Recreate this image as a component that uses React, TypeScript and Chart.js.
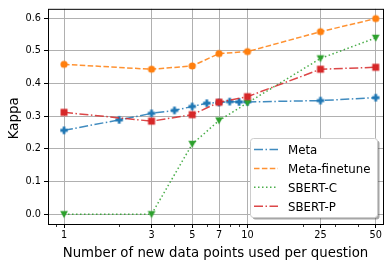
import React, { useEffect, useRef } from "react";
import { Chart, registerables } from "chart.js";

Chart.register(...registerables);

// ---- data ----
const metaX = [1, 2, 3, 4, 5, 6, 7, 8, 9, 10, 25, 50];
const metaY = [0.257, 0.289, 0.309, 0.318, 0.330, 0.340, 0.342, 0.345, 0.344, 0.344, 0.348, 0.357];
const otherX = [1, 3, 5, 7, 10, 25, 50];
const finetuneY = [0.459, 0.444, 0.454, 0.492, 0.498, 0.559, 0.599];
const sbertCY = [0.0, 0.0, 0.215, 0.287, 0.341, 0.477, 0.540];
const sbertPY = [0.312, 0.285, 0.305, 0.343, 0.360, 0.444, 0.450];
const xTicks = [1, 3, 5, 7, 10, 25, 50];
const xMinorTicks = [0.9, 2, 4, 6, 8, 9, 20, 30, 40];
const yTicks = [0.0, 0.1, 0.2, 0.3, 0.4, 0.5, 0.6];
const seriesNames = ["Meta", "Meta-finetune", "SBERT-C", "SBERT-P"];
const xTitle = "Number of new data points used per question";
const yTitle = "Kappa";

const COLORS = ["#1f77b4", "#ff7f0e", "#2ca02c", "#d62728"];
const LINE_COLORS = [
  "rgba(31,119,180,0.85)",
  "rgba(255,127,14,0.85)",
  "rgba(44,160,44,0.85)",
  "rgba(214,39,40,0.85)",
];
const DASHES = [
  [9, 2.5, 1.5, 2.5],
  [5.5, 2.4],
  [1.5, 2.5],
  [9, 2.5, 1.5, 2.5],
];
const FONT = "'DejaVu Sans', sans-serif";

function makeMarker(kind: string, color: string): HTMLCanvasElement {
  const c = document.createElement("canvas");
  c.width = 10;
  c.height = 10;
  const g = c.getContext("2d")!;
  g.fillStyle = color;
  const cx = 5, cy = 5;
  g.beginPath();
  if (kind === "plus") {
    const s = 3.7, w = 1.4;
    g.moveTo(cx - w, cy - s);
    g.lineTo(cx + w, cy - s);
    g.lineTo(cx + w, cy - w);
    g.lineTo(cx + s, cy - w);
    g.lineTo(cx + s, cy + w);
    g.lineTo(cx + w, cy + w);
    g.lineTo(cx + w, cy + s);
    g.lineTo(cx - w, cy + s);
    g.lineTo(cx - w, cy + w);
    g.lineTo(cx - s, cy + w);
    g.lineTo(cx - s, cy - w);
    g.lineTo(cx - w, cy - w);
    g.closePath();
  } else if (kind === "circle") {
    g.arc(cx, cy, 3.6, 0, Math.PI * 2);
  } else if (kind === "square") {
    g.rect(cx - 3.5, cy - 3.5, 7, 7);
  } else if (kind === "tri") {
    g.moveTo(cx - 3.9, cy - 3.2);
    g.lineTo(cx + 3.9, cy - 3.2);
    g.lineTo(cx, cy + 3.8);
    g.closePath();
  }
  g.fill();
  return c;
}

const framePlugin = {
  id: "frameAndLegend",
  afterDraw(chart: any) {
    const ctx = chart.ctx as CanvasRenderingContext2D;
    const a = chart.chartArea;
    const xs = chart.scales.x;
    ctx.save();
    // frame
    ctx.strokeStyle = "#000";
    ctx.lineWidth = 1;
    ctx.setLineDash([]);
    ctx.strokeRect(a.left + 0.5, a.top + 0.5, a.right - a.left, a.bottom - a.top);
    // minor ticks
    ctx.lineWidth = 0.8;
    for (const v of xMinorTicks) {
      const px = Math.round(xs.getPixelForValue(v)) + 0.5;
      ctx.beginPath();
      ctx.moveTo(px, a.bottom + 1);
      ctx.lineTo(px, a.bottom + 3);
      ctx.stroke();
    }
    // titles
    ctx.fillStyle = "#000";
    ctx.font = `13.3px ${FONT}`;
    ctx.textAlign = "center";
    ctx.textBaseline = "alphabetic";
    ctx.fillText(xTitle, (a.left + a.right) / 2, 257);
    ctx.save();
    ctx.translate(18, 118.3);
    ctx.rotate(-Math.PI / 2);
    ctx.fillText(yTitle, 0, 0);
    ctx.restore();

    // legend
    const lx = 250.5, ly = 138.5, lw = 127, lh = 79, r = 3;
    const rr = (x: number, y: number) => {
      ctx.beginPath();
      ctx.moveTo(x + r, y);
      ctx.lineTo(x + lw - r, y);
      ctx.quadraticCurveTo(x + lw, y, x + lw, y + r);
      ctx.lineTo(x + lw, y + lh - r);
      ctx.quadraticCurveTo(x + lw, y + lh, x + lw - r, y + lh);
      ctx.lineTo(x + r, y + lh);
      ctx.quadraticCurveTo(x, y + lh, x, y + lh - r);
      ctx.lineTo(x, y + r);
      ctx.quadraticCurveTo(x, y, x + r, y);
      ctx.closePath();
    };
    rr(lx + 2, ly + 2);
    ctx.fillStyle = "rgba(77,77,77,0.5)";
    ctx.fill();
    rr(lx, ly);
    ctx.fillStyle = "#ffffff";
    ctx.fill();
    ctx.strokeStyle = "#cccccc";
    ctx.lineWidth = 1;
    ctx.stroke();

    const rows = [149.5, 168.5, 187.3, 206.2];
    ctx.font = `11.8px ${FONT}`;
    ctx.textAlign = "left";
    for (let i = 0; i < seriesNames.length; i++) {
      ctx.strokeStyle = LINE_COLORS[i];
      ctx.lineWidth = 1.5;
      ctx.setLineDash(DASHES[i]);
      ctx.beginPath();
      ctx.moveTo(254, rows[i]);
      ctx.lineTo(278, rows[i]);
      ctx.stroke();
      ctx.setLineDash([]);
      ctx.fillStyle = "#000";
      ctx.fillText(seriesNames[i], 288, rows[i] + 4.3);
    }
    ctx.restore();
  },
};

export default function App() {
  const ref = useRef<HTMLCanvasElement | null>(null);
  useEffect(() => {
    document.body.style.margin = "0";
    const canvas = ref.current!;
    const markers = [
      makeMarker("plus", COLORS[0]),
      makeMarker("circle", COLORS[1]),
      makeMarker("tri", COLORS[2]),
      makeMarker("square", COLORS[3]),
    ];
    const ys = [metaY, finetuneY, sbertCY, sbertPY];
    const datasets = seriesNames.map((name, i) => {
      const xsArr = i === 0 ? metaX : otherX;
      return {
        label: name,
        data: xsArr.map((x, j) => ({ x, y: ys[i][j] })),
        borderColor: LINE_COLORS[i],
        backgroundColor: COLORS[i],
        borderWidth: 1.5,
        borderDash: DASHES[i],
        pointStyle: markers[i],
        pointRadius: 4,
        tension: 0,
        fill: false,
        order: 3 - i,
      };
    });
    const chart = new Chart(canvas, {
      type: "line",
      data: { datasets },
      plugins: [framePlugin],
      options: {
        responsive: false,
        animation: false,
        devicePixelRatio: 1,
        layout: { padding: { top: 6, right: 7, left: 0, bottom: 0 } },
        plugins: { legend: { display: false }, tooltip: { enabled: false } },
        scales: {
          x: {
            type: "logarithmic",
            min: 0.818,
            max: 54.8,
            afterBuildTicks: (s: any) => {
              s.ticks = xTicks.map((v) => ({ value: v }));
            },
            afterFit: (s: any) => {
              s.height = 42;
            },
            ticks: {
              callback: (v: any) => String(v),
              font: { family: FONT, size: 9.7 },
              color: "#000",
              padding: 2,
              maxRotation: 0,
              autoSkip: false,
            },
            grid: { color: "#b0b0b0", lineWidth: 1, tickColor: "#000", tickLength: 4 },
            border: { display: false },
          },
          y: {
            type: "linear",
            min: -0.0298,
            max: 0.629,
            afterBuildTicks: (s: any) => {
              s.ticks = yTicks.map((v) => ({ value: v }));
            },
            afterFit: (s: any) => {
              s.width = 48;
            },
            ticks: {
              callback: (v: any) => Number(v).toFixed(1),
              font: { family: FONT, size: 9.7 },
              color: "#000",
              padding: 3,
            },
            grid: { color: "#b0b0b0", lineWidth: 1, tickColor: "#000", tickLength: 4 },
            border: { display: false },
          },
        },
      },
    } as any);
    return () => chart.destroy();
  }, []);
  return (
    <div style={{ width: 390, height: 266 }}>
      <canvas ref={ref} width={390} height={266} style={{ display: "block" }} />
    </div>
  );
}
